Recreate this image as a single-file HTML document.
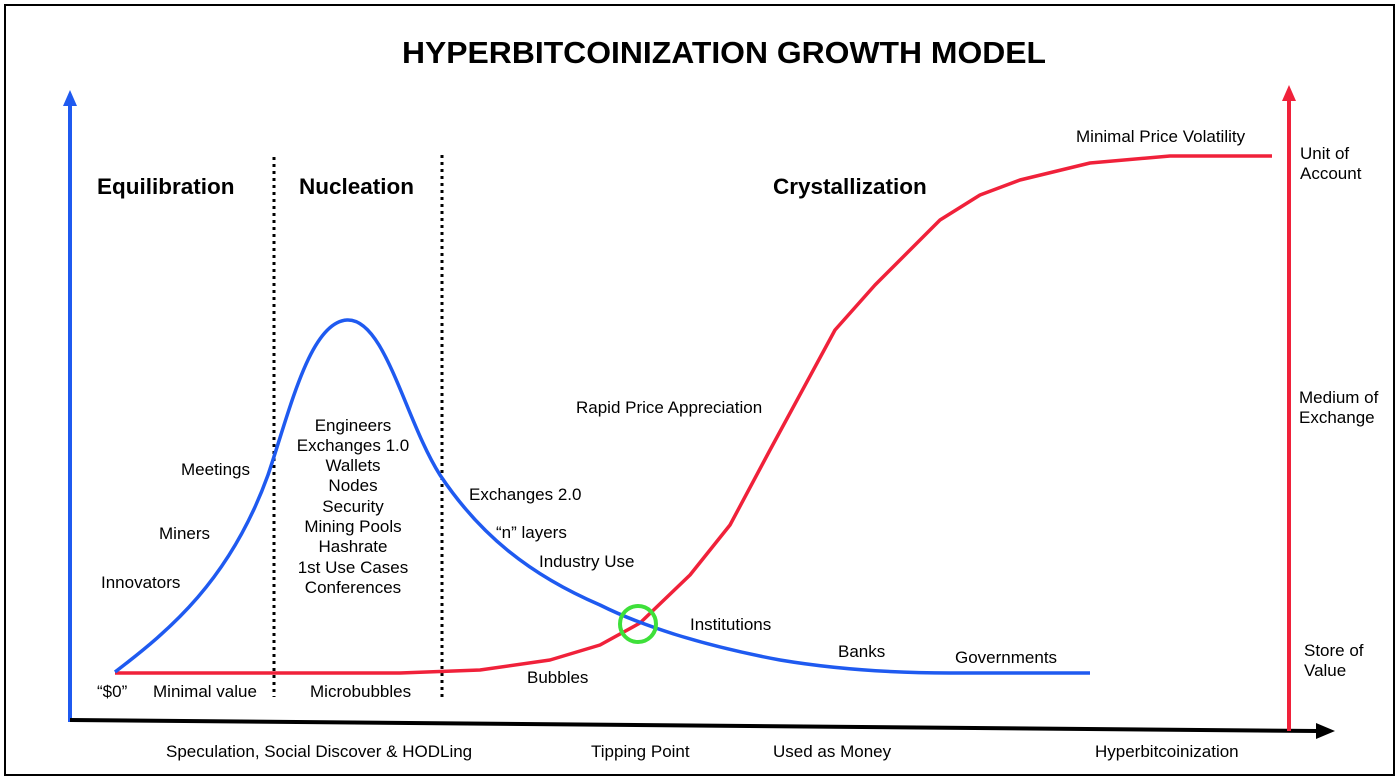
<!DOCTYPE html>
<html><head><style>
html,body{margin:0;padding:0;background:#fff;}
svg{display:block;}
text{font-family:"Liberation Sans",Arial,sans-serif;fill:#000;}
</style></head><body>
<svg width="1400" height="781" viewBox="0 0 1400 781">
<rect x="5" y="5" width="1389" height="770" fill="#fff" stroke="#000" stroke-width="2"/>
<text x="724" y="63" font-size="31" font-weight="bold" text-anchor="middle" textLength="644" lengthAdjust="spacingAndGlyphs">HYPERBITCOINIZATION GROWTH MODEL</text>
<line x1="70" y1="722" x2="70" y2="104" stroke="#1f5af0" stroke-width="4"/>
<polygon points="70,90 63,106 77,106" fill="#1f5af0"/>
<line x1="70" y1="720" x2="1318" y2="731" stroke="#000" stroke-width="4"/>
<polygon points="1335,731 1316,723 1316,739" fill="#000"/>
<line x1="1289" y1="731" x2="1289" y2="100" stroke="#f0213a" stroke-width="4"/>
<polygon points="1289,85 1282,101 1296,101" fill="#f0213a"/>
<line x1="274" y1="157" x2="274" y2="697" stroke="#000" stroke-width="3" stroke-dasharray="3,4"/>
<line x1="442" y1="155" x2="442" y2="697" stroke="#000" stroke-width="3" stroke-dasharray="3,4"/>
<polyline fill="none" stroke="#f0213a" stroke-width="3.5" stroke-linejoin="round" points="115,673 400,673 480,670 550,660 600,645 640,623 690,575 730,525 770,450 835,330 875,285 940,220 980,195 1020,180 1090,163 1170,156 1272,156"/>
<path fill="none" stroke="#1f5af0" stroke-width="3.5" d="M115,672 C170,630 230,580 268,475 C290,410 310,322 347,320 C385,318 405,420 440,475 C480,535 530,575 600,605 C640,625 700,645 780,660 C840,670 900,673 950,673 L1090,673"/>
<circle cx="638" cy="624" r="18" fill="none" stroke="#3ee03a" stroke-width="4"/>
<g font-size="22.5" font-weight="bold">
<text x="97" y="194">Equilibration</text>
<text x="299" y="194">Nucleation</text>
<text x="773" y="194">Crystallization</text>
</g>
<g font-size="17">
<text x="181" y="475">Meetings</text>
<text x="159" y="539">Miners</text>
<text x="101" y="588">Innovators</text>
<g text-anchor="middle">
<text x="353" y="431">Engineers</text>
<text x="353" y="451">Exchanges 1.0</text>
<text x="353" y="471">Wallets</text>
<text x="353" y="491">Nodes</text>
<text x="353" y="512">Security</text>
<text x="353" y="532">Mining Pools</text>
<text x="353" y="552">Hashrate</text>
<text x="353" y="573">1st Use Cases</text>
<text x="353" y="593">Conferences</text>
</g>
<text x="469" y="500">Exchanges 2.0</text>
<text x="496" y="538">“n” layers</text>
<text x="539" y="567">Industry Use</text>
<text x="576" y="413">Rapid Price Appreciation</text>
<text x="690" y="630">Institutions</text>
<text x="838" y="657">Banks</text>
<text x="955" y="663">Governments</text>
<text x="527" y="683">Bubbles</text>
<text x="1076" y="142">Minimal Price Volatility</text>
<text x="97" y="697">“$0”</text>
<text x="153" y="697">Minimal value</text>
<text x="310" y="697">Microbubbles</text>
<text x="1300" y="159">Unit of</text>
<text x="1300" y="179">Account</text>
<text x="1299" y="403">Medium of</text>
<text x="1299" y="423">Exchange</text>
<text x="1304" y="656">Store of</text>
<text x="1304" y="676">Value</text>
<text x="166" y="757">Speculation, Social Discover &amp; HODLing</text>
<text x="591" y="757">Tipping Point</text>
<text x="773" y="757">Used as Money</text>
<text x="1095" y="757">Hyperbitcoinization</text>
</g>
</svg>
</body></html>
